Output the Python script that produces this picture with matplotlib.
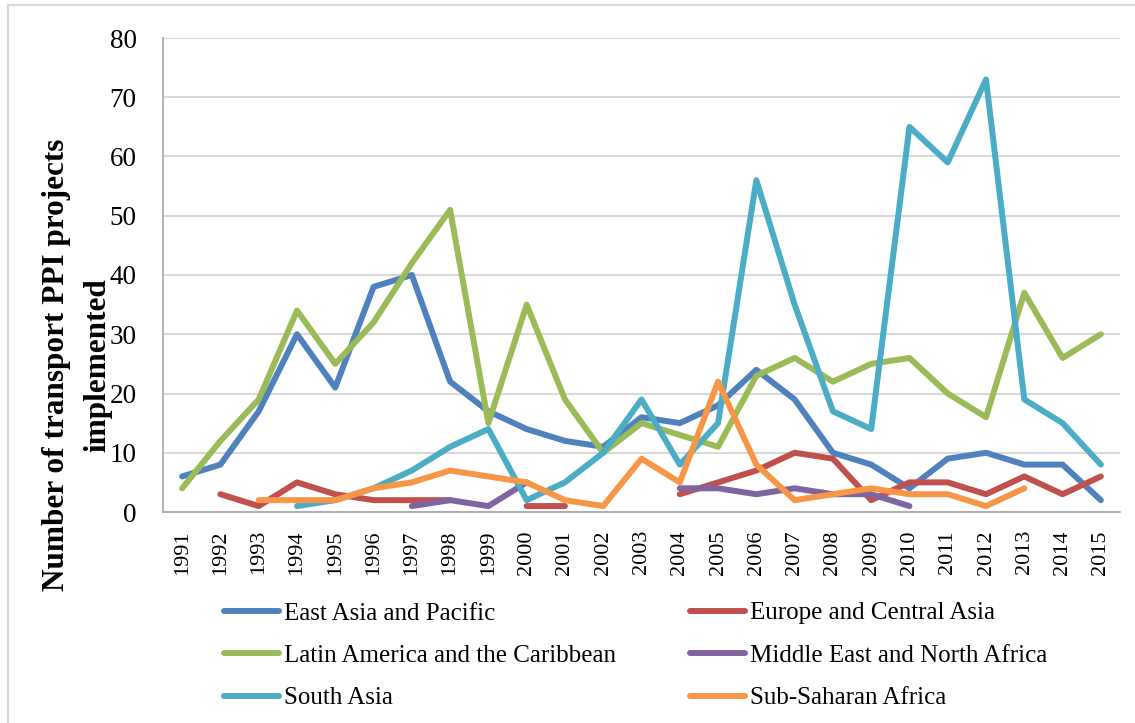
import matplotlib.pyplot as plt
import numpy as np

# number of transport PPI projects implemented per region, 1991-2015
years = [str(y) for y in range(1991, 2016)]
nan = np.nan

east_asia = [6, 8, 17, 30, 21, 38, 40, 22, 17, 14, 12, 11, 16, 15, 18, 24, 19, 10, 8, 4, 9, 10, 8, 8, 2]
europe = [nan, 3, 1, 5, 3, 2, 2, 2, nan, 1, 1, nan, nan, 3, 5, 7, 10, 9, 2, 5, 5, 3, 6, 3, 6]
latin = [4, 12, 19, 34, 25, 32, 42, 51, 15, 35, 19, 10, 15, 13, 11, 23, 26, 22, 25, 26, 20, 16, 37, 26, 30]
mena = [nan, nan, nan, nan, nan, nan, 1, 2, 1, 5, nan, nan, nan, 4, 4, 3, 4, 3, 3, 1, nan, nan, nan, nan, nan]
south_asia = [nan, nan, nan, 1, 2, 4, 7, 11, 14, 2, 5, 10, 19, 8, 15, 56, 35, 17, 14, 65, 59, 73, 19, 15, 8]
ssa = [nan, nan, 2, 2, 2, 4, 5, 7, 6, 5, 2, 1, 9, 5, 22, 8, 2, 3, 4, 3, 3, 1, 4, nan, nan]

series = [
    ('East Asia and Pacific', east_asia, '#4F81BD'),
    ('Europe and Central Asia', europe, '#C0504D'),
    ('Latin America and the Caribbean', latin, '#9BBB59'),
    ('Middle East and North Africa', mena, '#8064A2'),
    ('South Asia', south_asia, '#4BACC6'),
    ('Sub-Saharan Africa', ssa, '#F79646'),
]

plt.rcParams['font.family'] = ['Liberation Serif', 'DejaVu Serif']

W, H = 1135, 723
fig = plt.figure(figsize=(W / 100, H / 100), dpi=100)
ax = fig.add_axes([163 / W, 1 - 512 / H, (1120 - 163) / W, (512 - 38) / H])

x = np.arange(len(years))
lines = {}
for name, vals, col in series:
    ln, = ax.plot(x, vals, color=col, lw=4.3, solid_capstyle='round', solid_joinstyle='round')
    lines[name] = ln

ax.set_xlim(-0.5, len(years) - 0.5)
ax.set_ylim(0, 80)
ax.set_yticks(range(0, 81, 10))
ax.set_xticks(x)
ax.set_xticklabels(years, rotation=90, fontsize=16)
ax.tick_params(axis='y', labelsize=19.5, length=0, pad=19)
ax.tick_params(axis='x', length=0, pad=13)
ax.grid(axis='y', color='#D9D9D9', lw=1.5)
ax.set_axisbelow(True)
for s in ['top', 'right']:
    ax.spines[s].set_visible(False)
for s in ['left', 'bottom']:
    ax.spines[s].set_color('#A6A6A6')
    ax.spines[s].set_linewidth(1.2)

fig.text(77 / W, 1 - 365 / H, 'Number of transport PPI projects\nimplemented',
         rotation=90, ha='center', va='center', fontsize=22.5, fontweight='bold',
         linespacing=1.55)

# legend in two columns, placed separately
col1 = ['East Asia and Pacific', 'Latin America and the Caribbean', 'South Asia']
col2 = ['Europe and Central Asia', 'Middle East and North Africa', 'Sub-Saharan Africa']
for names, x0 in [(col1, 224), (col2, 690)]:
    fig.legend([lines[n] for n in names], names, frameon=False,
               loc='upper left', bbox_to_anchor=(x0 / W, 1 - 602 / H),
               borderaxespad=0, borderpad=0,
               fontsize=18, handlelength=2.2, handletextpad=0.22, labelspacing=0.8)

# chart frame
fig.add_artist(plt.Line2D([8 / W, 8 / W], [0, 1 - 5 / H], color='#D9D9D9', lw=1.5))
fig.add_artist(plt.Line2D([8 / W, 1], [1 - 5 / H, 1 - 5 / H], color='#D9D9D9', lw=1.5))

fig.savefig('out.png', dpi=100)
